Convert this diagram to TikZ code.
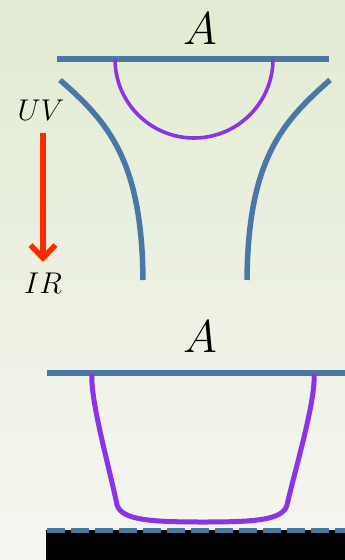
\RequirePackage{fix-cm}
\documentclass[tikz,border=0pt]{standalone}
\usetikzlibrary{arrows.meta}
\definecolor{bgtop}{HTML}{E2EBD3}
\definecolor{bgbot}{HTML}{F5F6F0}
\definecolor{braneblue}{HTML}{4A77A6}
\definecolor{surfpurple}{HTML}{8A33E8}
\definecolor{flowred}{HTML}{FF2A00}
\tikzset{
  brane/.style={draw=braneblue, line width=5.5pt},
  surf/.style={draw=surfpurple, line width=4pt},
  lbl/.style={inner sep=0pt, anchor=base},
}
\begin{document}
\begin{tikzpicture}[x=1pt,y=-1pt]
\shade[top color=bgtop, bottom color=bgbot] (0,0) rectangle (345,560);
\useasboundingbox (0,0) rectangle (345,560);
% top panel
\node[lbl, font=\fontsize{46}{50}\selectfont] (a1) at (200,44) {$A$};
\coordinate (t1l) at (57,59);
\coordinate (t1r) at (329,59);
\draw[brane] (t1l) -- (t1r);
\coordinate (s1) at (115,59);
\draw[surf, line width=3.6pt] (s1) arc[start angle=180, end angle=0, radius=79];
\coordinate (cl0) at (60,80);
\coordinate (cl1) at (143,280);
\coordinate (cr0) at (330,80);
\coordinate (cr1) at (247,280);
\draw[brane] (cl0) .. controls (108,122) and (142,160) .. (cl1);
\draw[brane] (cr0) .. controls (282,122) and (248,160) .. (cr1);
% UV -> IR
\node[lbl, font=\fontsize{30}{34}\selectfont] (uv) at (41,120) {$UV$};
\node[lbl, font=\fontsize{30}{34}\selectfont] (ir) at (43,293) {$IR$};
\coordinate (f0) at (43,133);
\coordinate (f1) at (43,262);
\draw[draw=flowred, line width=5.5pt, -{Straight Barb[length=13pt,width=25pt]}] (f0) -- (f1);
% bottom panel
\node[lbl, font=\fontsize{46}{50}\selectfont] (a2) at (200,352) {$A$};
\coordinate (t2l) at (47,373);
\coordinate (t2r) at (345,373);
\draw[brane] (t2l) -- (t2r);
\coordinate (b0) at (92,374);
\coordinate (b1) at (314,374);
\draw[surf, line width=5pt] (b0) .. controls (90,400) and (110,470) .. (117,505)
  .. controls (122,520) and (150,522) .. (203,522)
  .. controls (256,522) and (283,520) .. (287,505)
  .. controls (295,470) and (316,400) .. (b1);
\fill[black] (46,530) rectangle (345,560);
\coordinate (d0) at (47,530.5);
\coordinate (d1) at (345,530.5);
\draw[draw=braneblue, line width=4.5pt, dash pattern=on 18pt off 6pt] (d0) -- (d1);
\end{tikzpicture}
\end{document}
